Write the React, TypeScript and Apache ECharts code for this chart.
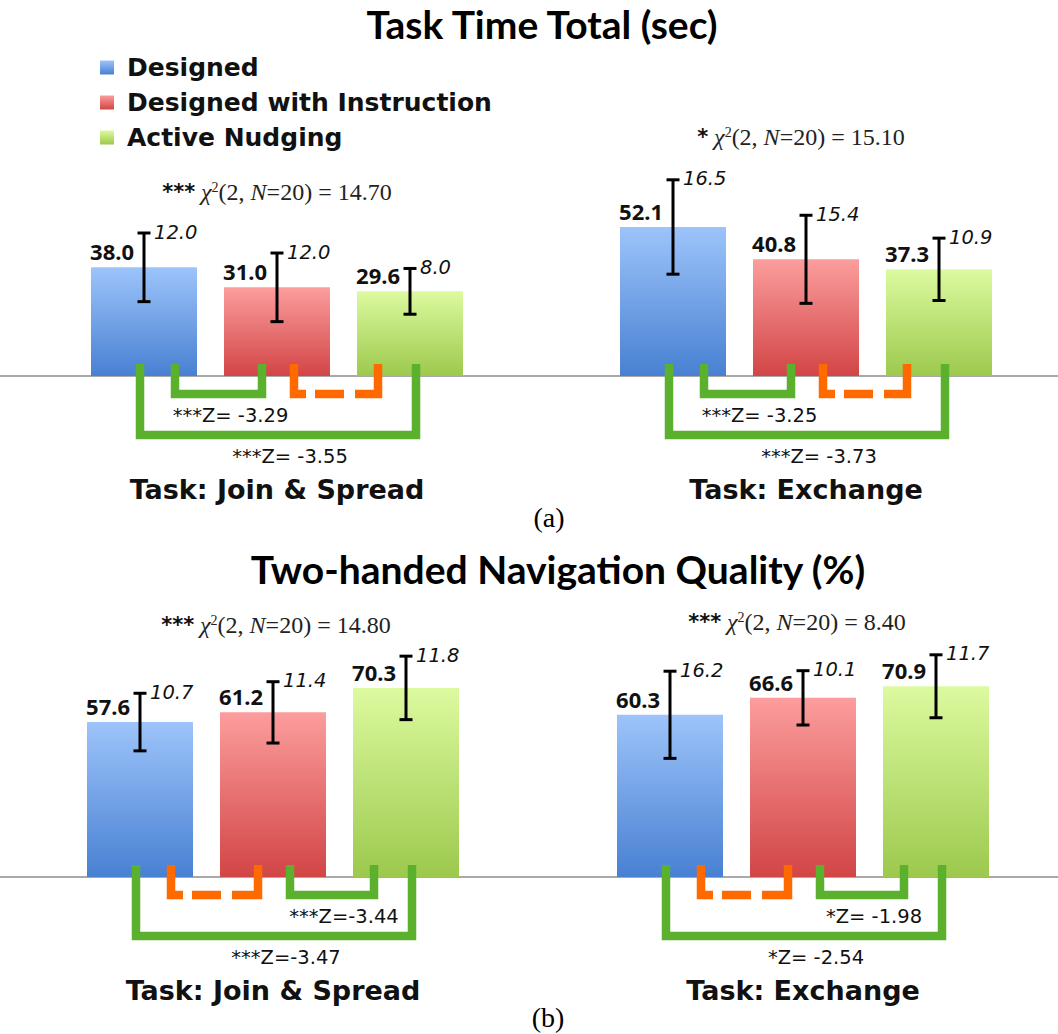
import React, { useEffect, useRef } from 'react';
import * as echarts from 'echarts';

// ---------- data ----------
const conditions = ['Designed', 'Designed with Instruction', 'Active Nudging'];
const taskLabels = ['Task: Join & Spread', 'Task: Exchange'];
const panelTitles = ['Task Time Total (sec)', 'Two-handed Navigation Quality (%)'];
const panelTags = ['(a)', '(b)'];

// (a) task time total, seconds: [Join & Spread], [Exchange]
const timeMeans = [[38.0, 31.0, 29.6], [52.1, 40.8, 37.3]];
const timeSDs = [[12.0, 12.0, 8.0], [16.5, 15.4, 10.9]];
// (b) two-handed navigation quality, %
const qualityMeans = [[57.6, 61.2, 70.3], [60.3, 66.6, 70.9]];
const qualitySDs = [[10.7, 11.4, 11.8], [16.2, 10.1, 11.7]];

// Friedman test per group (a-JS, a-EX, b-JS, b-EX)
const chiStars = ['***', '*', '***', '***'];
const chiValues = ['14.70', '15.10', '14.80', '8.40'];

// pairwise Wilcoxon brackets: [pair, significant, label]
const timeBrackets: [string, boolean, string][][] = [
  [['left', true, '***Z= -3.29'], ['right', false, ''], ['outer', true, '***Z= -3.55']],
  [['left', true, '***Z= -3.25'], ['right', false, ''], ['outer', true, '***Z= -3.73']],
];
const qualityBrackets: [string, boolean, string][][] = [
  [['left', false, ''], ['right', true, '***Z=-3.44'], ['outer', true, '***Z=-3.47']],
  [['left', false, ''], ['right', true, '*Z= -1.98'], ['outer', true, '*Z= -2.54']],
];

// ---------- styles ----------
const BAR_COLORS = [
  ['#9dc4fa', '#4880d2'],
  ['#fc9d9d', '#d24545'],
  ['#dcfa9f', '#9cc94d'],
];
const GREEN = '#5bb12d';
const ORANGE = '#ff6a00';
const TXT = '#111';

const PANELS = [
  { means: timeMeans, sds: timeSDs, brackets: timeBrackets, baseline: 376, max: 70, ppu: 2.86, lefts: [77.5, 606.5] },
  { means: qualityMeans, sds: qualitySDs, brackets: qualityBrackets, baseline: 877, max: 80, ppu: 2.69, lefts: [73.5, 603.5] },
];
const TITLE_POS = [[542, 24], [558, 569]];
const TAG_POS = [[549, 517], [548, 1017]];
const CHI_POS = [[277, 192], [801, 137], [276, 625], [797, 622]];

function gradient(k: number) {
  return new echarts.graphic.LinearGradient(0, 0, 0, 1, [
    { offset: 0, color: BAR_COLORS[k][0] },
    { offset: 1, color: BAR_COLORS[k][1] },
  ]);
}

function buildOption() {
  const grid: any[] = [];
  const xAxis: any[] = [];
  const yAxis: any[] = [];
  const series: any[] = [];
  const graphic: any[] = [];
  let g = 0;

  PANELS.forEach((p, pi) => {
    graphic.push({
      type: 'line',
      shape: { x1: 0, y1: p.baseline, x2: 1058, y2: p.baseline },
      style: { stroke: '#a9a9a9', lineWidth: 2 },
      z: 1,
    });
    for (let j = 0; j < 2; j++) {
      const h = p.max * p.ppu;
      grid.push({ left: p.lefts[j], top: p.baseline - h, width: 399, height: h });
      xAxis.push({
        type: 'category',
        gridIndex: g,
        data: conditions,
        axisLine: { show: false },
        axisTick: { show: false },
        axisLabel: { show: false },
        name: taskLabels[j],
        nameLocation: 'middle',
        nameGap: 100,
        nameTextStyle: { fontFamily: 'DejaVu Sans', fontWeight: 'bold', fontSize: 27, color: TXT },
      });
      yAxis.push({ type: 'value', gridIndex: g, min: 0, max: p.max, show: false });

      const means = p.means[j];
      const sds = p.sds[j];
      for (let k = 0; k < 3; k++) {
        series.push({
          type: 'bar',
          name: conditions[k],
          xAxisIndex: g,
          yAxisIndex: g,
          data: means.map((v, idx) => (idx === k ? v : '-')),
          barWidth: 106,
          barGap: '-100%',
          itemStyle: { color: gradient(k) },
          label: {
            show: true,
            position: 'top',
            distance: 5,
            align: 'right',
            offset: [-10, 0],
            formatter: (q: any) => Number(q.value).toFixed(1),
            fontFamily: 'Noto Sans',
            fontWeight: 'bold',
            fontSize: 22,
            color: TXT,
          },
          z: 2,
        });
      }

      // error bars
      series.push({
        type: 'custom',
        xAxisIndex: g,
        yAxisIndex: g,
        clip: false,
        z: 5,
        data: means.map((m, k) => [k, m, sds[k]]),
        renderItem: (params: any, api: any) => {
          const k = api.value(0);
          const m = api.value(1);
          const s = api.value(2);
          const top = api.coord([k, m + s]);
          const bot = api.coord([k, m - s]);
          const x = top[0];
          const ls = { stroke: '#000', lineWidth: 3 };
          return {
            type: 'group',
            children: [
              { type: 'line', shape: { x1: x, y1: top[1], x2: x, y2: bot[1] }, style: ls },
              { type: 'line', shape: { x1: x - 6.5, y1: top[1], x2: x + 6.5, y2: top[1] }, style: ls },
              { type: 'line', shape: { x1: x - 6.5, y1: bot[1], x2: x + 6.5, y2: bot[1] }, style: ls },
              {
                type: 'text',
                x: x + 10,
                y: top[1] - 1,
                style: {
                  text: Number(s).toFixed(1),
                  fontFamily: 'DejaVu Sans',
                  fontStyle: 'italic',
                  fontSize: 19.5,
                  fill: TXT,
                  align: 'left',
                  verticalAlign: 'middle',
                },
              },
            ],
          };
        },
      });

      // significance brackets
      const brackets = p.brackets[j];
      series.push({
        type: 'custom',
        xAxisIndex: g,
        yAxisIndex: g,
        clip: false,
        z: 6,
        data: brackets.map((_, i) => [i, 0]),
        renderItem: (params: any, api: any) => {
          const [kind, sig, label] = brackets[params.dataIndex];
          const c = [0, 1, 2].map((k) => api.coord([k, 0]));
          const y0 = c[0][1];
          let xL: number, xR: number, bottom: number;
          if (kind === 'outer') {
            xL = c[0][0] - 4; xR = c[2][0] + 6; bottom = y0 + 59;
          } else if (kind === 'left') {
            xL = c[0][0] + 31; xR = c[1][0] - 15; bottom = y0 + 18;
          } else {
            xL = c[1][0] + 17; xR = c[2][0] - 32; bottom = y0 + 18;
          }
          const top = y0 - 12;
          const style: any = {
            fill: 'none',
            stroke: sig ? GREEN : ORANGE,
            lineWidth: 8.5,
            lineJoin: 'miter',
            lineCap: 'butt',
          };
          if (!sig) style.lineDash = [bottom - top + 12, 9, 29, 11, 999];
          const children: any[] = [
            { type: 'polyline', shape: { points: [[xL, top], [xL, bottom], [xR, bottom], [xR, top]] }, style },
          ];
          if (label) {
            children.push({
              type: 'text',
              x: (xL + xR) / 2 + 12,
              y: bottom + 21,
              style: {
                text: label,
                fontFamily: 'DejaVu Sans',
                fontSize: 19.5,
                fill: TXT,
                align: 'center',
                verticalAlign: 'middle',
              },
            });
          }
          return { type: 'group', children };
        },
      });

      // chi-square annotation
      const [cx, cy] = CHI_POS[g];
      graphic.push({
        type: 'text',
        x: cx,
        y: cy,
        z: 10,
        style: {
          text: `{s|${chiStars[g]}} {c|χ}{sup|2}{n|(2, }{i|N}{n|=20) = ${chiValues[g]}}`,
          align: 'center',
          verticalAlign: 'middle',
          fontFamily: 'Liberation Serif',
          fontSize: 23,
          fill: '#222',
          rich: {
            s: { fontFamily: 'DejaVu Sans', fontWeight: 'bold', fontSize: 21, fill: TXT },
            c: { fontFamily: 'Liberation Serif', fontStyle: 'italic', fontSize: 24, fill: '#222' },
            sup: { fontFamily: 'Liberation Serif', fontSize: 14, fill: '#222', verticalAlign: 'top', lineHeight: 14 },
            n: { fontFamily: 'Liberation Serif', fontSize: 24, fill: '#222' },
            i: { fontFamily: 'Liberation Serif', fontStyle: 'italic', fontSize: 24, fill: '#222' },
          },
        },
      });
      g++;
    }

    graphic.push({
      type: 'text',
      x: TITLE_POS[pi][0],
      y: TITLE_POS[pi][1],
      style: {
        text: panelTitles[pi],
        fontFamily: 'Lato',
        fontWeight: 'bold',
        fontSize: 39,
        fill: '#000',
        align: 'center',
        verticalAlign: 'middle',
      },
    });
    graphic.push({
      type: 'text',
      x: TAG_POS[pi][0],
      y: TAG_POS[pi][1],
      style: {
        text: panelTags[pi],
        fontFamily: 'Liberation Serif',
        fontSize: 28,
        fill: '#000',
        align: 'center',
        verticalAlign: 'middle',
      },
    });
  });

  return {
    animation: false,
    backgroundColor: '#fff',
    grid,
    xAxis,
    yAxis,
    series,
    graphic,
    legend: {
      data: conditions,
      orient: 'vertical',
      left: 100,
      top: 55,
      padding: 0,
      itemWidth: 14,
      itemHeight: 14,
      itemGap: 10,
      icon: 'rect',
      selectedMode: false,
      textStyle: {
        fontFamily: 'DejaVu Sans',
        fontWeight: 'bold',
        fontSize: 25,
        color: TXT,
        padding: [0, 0, 0, 8],
      },
    },
  };
}

export default function App() {
  const ref = useRef<HTMLDivElement>(null);
  useEffect(() => {
    const chart = echarts.init(ref.current!, null, { renderer: 'svg' });
    chart.setOption(buildOption() as any);
    return () => chart.dispose();
  }, []);
  return (
    <div
      ref={ref}
      style={{ position: 'fixed', left: 0, top: 0, width: 1058, height: 1034, background: '#fff' }}
    />
  );
}
